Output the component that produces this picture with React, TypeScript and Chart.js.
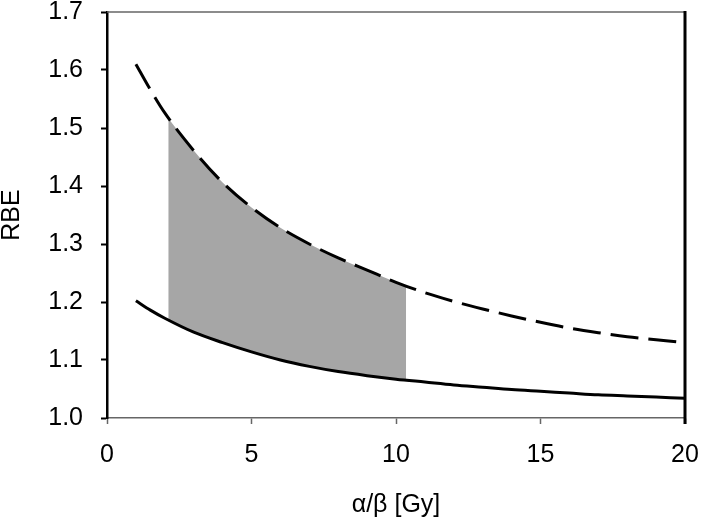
import React, { useEffect, useRef } from "react";
import { Chart, registerables } from "chart.js";

Chart.register(...registerables);

// α/β values (Gy) at which the curves were read
const alphaBeta = [1, 1.5, 2, 3, 4, 5, 6, 7, 8, 9, 10, 11, 12, 13, 14, 15, 16, 17, 18, 19, 20];
// upper (dashed) RBE curve
const rbeUpper = [1.61, 1.566, 1.526, 1.461, 1.406, 1.363, 1.328, 1.3, 1.276, 1.255, 1.234, 1.216, 1.201, 1.188, 1.176, 1.165, 1.155, 1.147, 1.14, 1.135, 1.13];
// lower (solid) RBE curve
const rbeLower = [1.202, 1.186, 1.172, 1.148, 1.13, 1.114, 1.1, 1.089, 1.08, 1.073, 1.067, 1.062, 1.057, 1.053, 1.049, 1.046, 1.043, 1.04, 1.038, 1.036, 1.034];

// shaded band between the curves
const shadeAlphaBeta = [2.12, 3, 4, 5, 6, 7, 8, 9, 10, 10.35];
const shadeUpper = [1.517, 1.461, 1.406, 1.363, 1.328, 1.3, 1.276, 1.255, 1.234, 1.228];
const shadeLower = [1.169, 1.148, 1.13, 1.114, 1.1, 1.089, 1.08, 1.073, 1.067, 1.066];

const xTicks = [0, 5, 10, 15, 20];
const yTicks = [1.0, 1.1, 1.2, 1.3, 1.4, 1.5, 1.6, 1.7];

const FONT = "'Liberation Sans', Arial, sans-serif";

const pts = (xs: number[], ys: number[]) => xs.map((x, i) => ({ x, y: ys[i] }));

const framePlugin = {
  id: "frame",
  afterDraw(chart: any) {
    const { ctx, chartArea } = chart;
    ctx.save();
    ctx.strokeStyle = "#666666";
    ctx.lineWidth = 1.5;
    ctx.beginPath();
    ctx.moveTo(chartArea.left, chartArea.top);
    ctx.lineTo(chartArea.right, chartArea.top);
    ctx.stroke();
    ctx.strokeStyle = "#000000";
    ctx.lineWidth = 3;
    ctx.beginPath();
    ctx.moveTo(chartArea.right, chartArea.top - 1);
    ctx.lineTo(chartArea.right, chartArea.bottom + 6);
    ctx.stroke();
    ctx.restore();
  },
};

export default function App() {
  const ref = useRef<HTMLCanvasElement | null>(null);

  useEffect(() => {
    document.body.style.margin = "0";
    const canvas = ref.current;
    if (!canvas) return;
    const chart = new Chart(canvas, {
      type: "line",
      data: {
        datasets: [
          {
            label: "upper",
            data: pts(alphaBeta, rbeUpper),
            borderColor: "#000000",
            borderWidth: 3,
            borderDash: [28, 10],
            pointRadius: 0,
            fill: false,
            cubicInterpolationMode: "monotone",
          },
          {
            label: "lower",
            data: pts(alphaBeta, rbeLower),
            borderColor: "#000000",
            borderWidth: 3,
            pointRadius: 0,
            fill: false,
            cubicInterpolationMode: "monotone",
          },
          {
            label: "shadeTop",
            data: pts(shadeAlphaBeta, shadeUpper),
            borderWidth: 0,
            borderColor: "rgba(0,0,0,0)",
            backgroundColor: "#a6a6a6",
            pointRadius: 0,
            fill: "+1",
            cubicInterpolationMode: "monotone",
          },
          {
            label: "shadeBottom",
            data: pts(shadeAlphaBeta, shadeLower),
            borderWidth: 0,
            borderColor: "rgba(0,0,0,0)",
            pointRadius: 0,
            fill: false,
            cubicInterpolationMode: "monotone",
          },
        ],
      },
      options: {
        responsive: false,
        animation: false,
        devicePixelRatio: 1,
        layout: { padding: { left: 0, right: 16, top: 12, bottom: 0 } },
        plugins: {
          legend: { display: false },
          tooltip: { enabled: false },
        },
        scales: {
          x: {
            type: "linear",
            min: 0,
            max: 20,
            afterBuildTicks: (s: any) => {
              s.ticks = xTicks.map((v) => ({ value: v }));
            },
            afterFit: (s: any) => {
              s.height = 100;
              s.paddingLeft = 0;
              s.paddingRight = 0;
            },
            border: { display: true, color: "#666666", width: 1.5 },
            grid: {
              drawOnChartArea: false,
              drawTicks: true,
              tickLength: 6,
              tickColor: "#666666",
              tickWidth: 1.5,
            },
            ticks: {
              color: "#000000",
              font: { family: FONT, size: 25 },
              padding: 16,
              maxRotation: 0,
              autoSkip: false,
              callback: (v: any) => String(v),
            },
            title: {
              display: true,
              text: "α/β [Gy]",
              color: "#000000",
              font: { family: FONT, size: 25, lineHeight: 1 },
              padding: 0,
            },
          },
          y: {
            type: "linear",
            min: 1.0,
            max: 1.7,
            afterBuildTicks: (s: any) => {
              s.ticks = yTicks.map((v) => ({ value: v }));
            },
            afterFit: (s: any) => {
              s.width = 107;
              s.paddingTop = 0;
              s.paddingBottom = 0;
            },
            border: { display: true, color: "#000000", width: 2.5 },
            grid: {
              drawOnChartArea: false,
              drawTicks: true,
              tickLength: 6,
              tickColor: "#000000",
              tickWidth: 2,
            },
            ticks: {
              color: "#000000",
              font: { family: FONT, size: 25 },
              padding: 18,
              autoSkip: false,
              callback: (v: any) => Number(v).toFixed(1),
            },
            title: {
              display: true,
              text: "RBE",
              color: "#000000",
              font: { family: FONT, size: 25, lineHeight: 1 },
              padding: 0,
            },
          },
        },
      },
      plugins: [framePlugin],
    });
    return () => chart.destroy();
  }, []);

  return <canvas ref={ref} width={701} height={518} style={{ display: "block" }} />;
}
